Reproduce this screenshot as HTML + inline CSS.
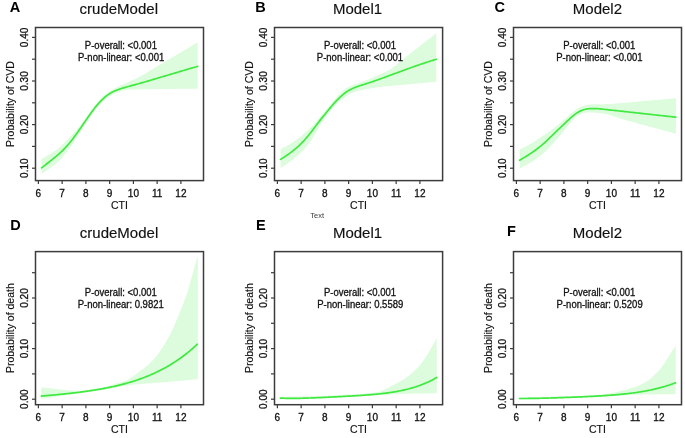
<!DOCTYPE html>
<html><head><meta charset="utf-8"><style>
html,body{margin:0;padding:0;background:#fff;}
svg{display:block;filter:blur(0.25px);}
text{font-family:"Liberation Sans",sans-serif;fill:#111;}
.tk{font-size:10px;stroke:#111;stroke-width:0.3px;}
.al{font-size:10.5px;stroke:#111;stroke-width:0.15px;}
.ti{font-size:15px;stroke:#111;stroke-width:0.15px;}
.lt{font-size:14.5px;font-weight:bold;fill:#000;}
.pv{font-size:10px;stroke:#111;stroke-width:0.3px;}
.sm{font-size:7.5px;fill:#3a3a3a;}
</style></head><body>
<svg width="685" height="438" viewBox="0 0 685 438">
<rect width="685" height="438" fill="#fff"/>
<path d="M41.50,159.00 L42.50,158.41 L43.50,157.82 L44.50,157.23 L45.50,156.64 L46.50,156.04 L47.50,155.44 L48.50,154.83 L49.50,154.22 L50.50,153.60 L51.50,152.98 L52.50,152.35 L53.50,151.71 L54.50,151.05 L55.50,150.39 L56.50,149.70 L57.50,148.98 L58.50,148.22 L59.50,147.40 L60.50,146.53 L61.50,145.61 L62.50,144.65 L63.50,143.65 L64.50,142.63 L65.50,141.59 L66.50,140.55 L67.50,139.51 L68.50,138.47 L69.50,137.44 L70.50,136.40 L71.50,135.36 L72.50,134.32 L73.50,133.26 L74.50,132.18 L75.50,131.08 L76.50,129.94 L77.50,128.76 L78.50,127.55 L79.50,126.30 L80.50,125.01 L81.50,123.69 L82.50,122.34 L83.50,120.97 L84.50,119.59 L85.50,118.20 L86.50,116.81 L87.50,115.43 L88.50,114.05 L89.50,112.68 L90.50,111.32 L91.50,109.97 L92.50,108.63 L93.50,107.32 L94.50,106.03 L95.50,104.77 L96.50,103.56 L97.50,102.38 L98.50,101.23 L99.50,100.13 L100.50,99.05 L101.50,98.01 L102.50,97.01 L103.50,96.05 L104.50,95.13 L105.50,94.26 L106.50,93.44 L107.50,92.67 L108.50,91.95 L109.50,91.28 L110.50,90.64 L111.50,90.04 L112.50,89.47 L113.50,88.93 L114.50,88.42 L115.50,87.92 L116.50,87.43 L117.50,86.96 L118.50,86.49 L119.50,86.03 L120.50,85.58 L121.50,85.13 L122.50,84.68 L123.50,84.23 L124.50,83.78 L125.50,83.32 L126.50,82.87 L127.50,82.42 L128.50,81.97 L129.50,81.52 L130.50,81.07 L131.50,80.61 L132.50,80.15 L133.50,79.69 L134.50,79.22 L135.50,78.75 L136.50,78.26 L137.50,77.76 L138.50,77.26 L139.50,76.73 L140.50,76.20 L141.50,75.64 L142.50,75.08 L143.50,74.50 L144.50,73.92 L145.50,73.33 L146.50,72.73 L147.50,72.14 L148.50,71.55 L149.50,70.95 L150.50,70.36 L151.50,69.76 L152.50,69.17 L153.50,68.57 L154.50,67.98 L155.50,67.39 L156.50,66.79 L157.50,66.20 L158.50,65.60 L159.50,65.01 L160.50,64.41 L161.50,63.82 L162.50,63.22 L163.50,62.63 L164.50,62.04 L165.50,61.44 L166.50,60.85 L167.50,60.25 L168.50,59.66 L169.50,59.06 L170.50,58.47 L171.50,57.87 L172.50,57.28 L173.50,56.69 L174.50,56.09 L175.50,55.50 L176.50,54.90 L177.50,54.31 L178.50,53.71 L179.50,53.12 L180.50,52.52 L181.50,51.93 L182.50,51.34 L183.50,50.74 L184.50,50.15 L185.50,49.55 L186.50,48.96 L187.50,48.36 L188.50,47.77 L189.50,47.18 L190.50,46.58 L191.50,45.99 L192.50,45.40 L193.50,44.81 L194.50,44.23 L195.50,43.66 L196.50,43.10 L197.50,42.57 L197.70,42.30 L197.70,88.60 L197.50,88.61 L196.50,88.62 L195.50,88.63 L194.50,88.64 L193.50,88.65 L192.50,88.66 L191.50,88.68 L190.50,88.69 L189.50,88.70 L188.50,88.71 L187.50,88.72 L186.50,88.74 L185.50,88.75 L184.50,88.76 L183.50,88.77 L182.50,88.78 L181.50,88.80 L180.50,88.81 L179.50,88.82 L178.50,88.83 L177.50,88.85 L176.50,88.86 L175.50,88.87 L174.50,88.88 L173.50,88.89 L172.50,88.91 L171.50,88.92 L170.50,88.93 L169.50,88.94 L168.50,88.95 L167.50,88.97 L166.50,88.98 L165.50,88.99 L164.50,89.00 L163.50,89.01 L162.50,89.03 L161.50,89.04 L160.50,89.05 L159.50,89.06 L158.50,89.08 L157.50,89.09 L156.50,89.10 L155.50,89.11 L154.50,89.12 L153.50,89.14 L152.50,89.15 L151.50,89.16 L150.50,89.17 L149.50,89.18 L148.50,89.20 L147.50,89.21 L146.50,89.22 L145.50,89.23 L144.50,89.25 L143.50,89.26 L142.50,89.27 L141.50,89.28 L140.50,89.30 L139.50,89.31 L138.50,89.33 L137.50,89.34 L136.50,89.36 L135.50,89.38 L134.50,89.39 L133.50,89.42 L132.50,89.44 L131.50,89.47 L130.50,89.52 L129.50,89.59 L128.50,89.68 L127.50,89.79 L126.50,89.94 L125.50,90.12 L124.50,90.34 L123.50,90.58 L122.50,90.84 L121.50,91.13 L120.50,91.45 L119.50,91.78 L118.50,92.14 L117.50,92.51 L116.50,92.91 L115.50,93.33 L114.50,93.78 L113.50,94.25 L112.50,94.75 L111.50,95.28 L110.50,95.85 L109.50,96.46 L108.50,97.12 L107.50,97.81 L106.50,98.56 L105.50,99.35 L104.50,100.20 L103.50,101.09 L102.50,102.03 L101.50,103.01 L100.50,104.04 L99.50,105.10 L98.50,106.20 L97.50,107.33 L96.50,108.51 L95.50,109.73 L94.50,110.99 L93.50,112.29 L92.50,113.64 L91.50,115.01 L90.50,116.42 L89.50,117.86 L88.50,119.32 L87.50,120.80 L86.50,122.31 L85.50,123.85 L84.50,125.40 L83.50,126.97 L82.50,128.55 L81.50,130.13 L80.50,131.70 L79.50,133.27 L78.50,134.82 L77.50,136.37 L76.50,137.90 L75.50,139.43 L74.50,140.95 L73.50,142.45 L72.50,143.94 L71.50,145.41 L70.50,146.85 L69.50,148.25 L68.50,149.62 L67.50,150.96 L66.50,152.27 L65.50,153.55 L64.50,154.80 L63.50,156.03 L62.50,157.23 L61.50,158.38 L60.50,159.48 L59.50,160.51 L58.50,161.47 L57.50,162.38 L56.50,163.23 L55.50,164.04 L54.50,164.82 L53.50,165.58 L52.50,166.33 L51.50,167.06 L50.50,167.78 L49.50,168.49 L48.50,169.18 L47.50,169.86 L46.50,170.54 L45.50,171.20 L44.50,171.85 L43.50,172.50 L42.50,173.15 L41.50,173.80 Z" fill="#ddfcdd" stroke="none"/>
<path d="M41.50,167.90 L42.50,167.13 L43.50,166.36 L44.50,165.59 L45.50,164.82 L46.50,164.04 L47.50,163.26 L48.50,162.48 L49.50,161.69 L50.50,160.91 L51.50,160.11 L52.50,159.31 L53.50,158.51 L54.50,157.70 L55.50,156.88 L56.50,156.05 L57.50,155.20 L58.50,154.33 L59.50,153.43 L60.50,152.50 L61.50,151.54 L62.50,150.56 L63.50,149.55 L64.50,148.53 L65.50,147.49 L66.50,146.43 L67.50,145.34 L68.50,144.22 L69.50,143.05 L70.50,141.83 L71.50,140.57 L72.50,139.27 L73.50,137.94 L74.50,136.58 L75.50,135.20 L76.50,133.81 L77.50,132.41 L78.50,131.01 L79.50,129.58 L80.50,128.15 L81.50,126.70 L82.50,125.24 L83.50,123.78 L84.50,122.32 L85.50,120.86 L86.50,119.41 L87.50,117.98 L88.50,116.55 L89.50,115.14 L90.50,113.74 L91.50,112.36 L92.50,111.00 L93.50,109.66 L94.50,108.35 L95.50,107.07 L96.50,105.84 L97.50,104.65 L98.50,103.51 L99.50,102.40 L100.50,101.34 L101.50,100.32 L102.50,99.34 L103.50,98.41 L104.50,97.52 L105.50,96.68 L106.50,95.89 L107.50,95.14 L108.50,94.43 L109.50,93.78 L110.50,93.16 L111.50,92.59 L112.50,92.05 L113.50,91.56 L114.50,91.09 L115.50,90.65 L116.50,90.24 L117.50,89.86 L118.50,89.49 L119.50,89.14 L120.50,88.81 L121.50,88.49 L122.50,88.18 L123.50,87.88 L124.50,87.59 L125.50,87.31 L126.50,87.03 L127.50,86.75 L128.50,86.48 L129.50,86.20 L130.50,85.93 L131.50,85.66 L132.50,85.39 L133.50,85.12 L134.50,84.84 L135.50,84.57 L136.50,84.29 L137.50,84.01 L138.50,83.73 L139.50,83.45 L140.50,83.17 L141.50,82.89 L142.50,82.60 L143.50,82.32 L144.50,82.03 L145.50,81.74 L146.50,81.45 L147.50,81.16 L148.50,80.87 L149.50,80.57 L150.50,80.28 L151.50,79.98 L152.50,79.68 L153.50,79.39 L154.50,79.09 L155.50,78.79 L156.50,78.50 L157.50,78.20 L158.50,77.91 L159.50,77.61 L160.50,77.31 L161.50,77.02 L162.50,76.72 L163.50,76.43 L164.50,76.13 L165.50,75.83 L166.50,75.54 L167.50,75.24 L168.50,74.95 L169.50,74.65 L170.50,74.35 L171.50,74.06 L172.50,73.76 L173.50,73.47 L174.50,73.17 L175.50,72.87 L176.50,72.58 L177.50,72.28 L178.50,71.98 L179.50,71.69 L180.50,71.39 L181.50,71.10 L182.50,70.80 L183.50,70.50 L184.50,70.21 L185.50,69.91 L186.50,69.62 L187.50,69.32 L188.50,69.02 L189.50,68.73 L190.50,68.43 L191.50,68.14 L192.50,67.84 L193.50,67.55 L194.50,67.26 L195.50,66.98 L196.50,66.70 L197.50,66.44 L197.70,66.30" fill="none" stroke="#40e940" stroke-width="1.7" stroke-linecap="round" stroke-linejoin="round"/>
<rect x="35.5" y="27.5" width="168.00" height="153.10" fill="none" stroke="#3c3c3c" stroke-width="1.5"/>
<line x1="38.40" y1="180.6" x2="38.40" y2="184.1" stroke="#3c3c3c" stroke-width="1.2"/>
<text x="38.40" y="197.20" text-anchor="middle" class="tk">6</text>
<line x1="62.15" y1="180.6" x2="62.15" y2="184.1" stroke="#3c3c3c" stroke-width="1.2"/>
<text x="62.15" y="197.20" text-anchor="middle" class="tk">7</text>
<line x1="85.90" y1="180.6" x2="85.90" y2="184.1" stroke="#3c3c3c" stroke-width="1.2"/>
<text x="85.90" y="197.20" text-anchor="middle" class="tk">8</text>
<line x1="109.65" y1="180.6" x2="109.65" y2="184.1" stroke="#3c3c3c" stroke-width="1.2"/>
<text x="109.65" y="197.20" text-anchor="middle" class="tk">9</text>
<line x1="133.40" y1="180.6" x2="133.40" y2="184.1" stroke="#3c3c3c" stroke-width="1.2"/>
<text x="133.40" y="197.20" text-anchor="middle" class="tk">10</text>
<line x1="157.15" y1="180.6" x2="157.15" y2="184.1" stroke="#3c3c3c" stroke-width="1.2"/>
<text x="157.15" y="197.20" text-anchor="middle" class="tk">11</text>
<line x1="180.90" y1="180.6" x2="180.90" y2="184.1" stroke="#3c3c3c" stroke-width="1.2"/>
<text x="180.90" y="197.20" text-anchor="middle" class="tk">12</text>
<line x1="32.0" y1="168.20" x2="35.5" y2="168.20" stroke="#3c3c3c" stroke-width="1.2"/>
<text transform="translate(28.20,168.20) rotate(-90)" x="0" y="0" text-anchor="middle" class="tk">0.10</text>
<line x1="32.0" y1="146.40" x2="35.5" y2="146.40" stroke="#3c3c3c" stroke-width="1.2"/>
<line x1="32.0" y1="124.60" x2="35.5" y2="124.60" stroke="#3c3c3c" stroke-width="1.2"/>
<text transform="translate(28.20,124.60) rotate(-90)" x="0" y="0" text-anchor="middle" class="tk">0.20</text>
<line x1="32.0" y1="102.80" x2="35.5" y2="102.80" stroke="#3c3c3c" stroke-width="1.2"/>
<line x1="32.0" y1="81.00" x2="35.5" y2="81.00" stroke="#3c3c3c" stroke-width="1.2"/>
<text transform="translate(28.20,81.00) rotate(-90)" x="0" y="0" text-anchor="middle" class="tk">0.30</text>
<line x1="32.0" y1="59.20" x2="35.5" y2="59.20" stroke="#3c3c3c" stroke-width="1.2"/>
<line x1="32.0" y1="37.40" x2="35.5" y2="37.40" stroke="#3c3c3c" stroke-width="1.2"/>
<text transform="translate(28.20,37.40) rotate(-90)" x="0" y="0" text-anchor="middle" class="tk">0.40</text>
<text x="119.50" y="208.90" text-anchor="middle" class="al">CTI</text>
<text transform="translate(14.00,104.05) rotate(-90)" x="0" y="0" text-anchor="middle" class="al">Probability of CVD</text>
<path d="M280.60,149.20 L281.60,148.66 L282.60,148.12 L283.60,147.58 L284.60,147.05 L285.60,146.50 L286.60,145.94 L287.60,145.37 L288.60,144.78 L289.60,144.18 L290.60,143.55 L291.60,142.91 L292.60,142.25 L293.60,141.57 L294.60,140.88 L295.60,140.19 L296.60,139.49 L297.60,138.77 L298.60,138.05 L299.60,137.30 L300.60,136.53 L301.60,135.74 L302.60,134.91 L303.60,134.06 L304.60,133.18 L305.60,132.27 L306.60,131.35 L307.60,130.40 L308.60,129.44 L309.60,128.46 L310.60,127.48 L311.60,126.48 L312.60,125.47 L313.60,124.43 L314.60,123.36 L315.60,122.25 L316.60,121.11 L317.60,119.94 L318.60,118.75 L319.60,117.55 L320.60,116.34 L321.60,115.15 L322.60,113.96 L323.60,112.78 L324.60,111.60 L325.60,110.41 L326.60,109.20 L327.60,107.98 L328.60,106.75 L329.60,105.50 L330.60,104.26 L331.60,103.03 L332.60,101.80 L333.60,100.59 L334.60,99.39 L335.60,98.21 L336.60,97.05 L337.60,95.92 L338.60,94.81 L339.60,93.74 L340.60,92.72 L341.60,91.75 L342.60,90.86 L343.60,90.03 L344.60,89.28 L345.60,88.61 L346.60,87.99 L347.60,87.44 L348.60,86.93 L349.60,86.47 L350.60,86.03 L351.60,85.61 L352.60,85.21 L353.60,84.82 L354.60,84.44 L355.60,84.06 L356.60,83.69 L357.60,83.32 L358.60,82.96 L359.60,82.60 L360.60,82.25 L361.60,81.91 L362.60,81.57 L363.60,81.23 L364.60,80.89 L365.60,80.54 L366.60,80.18 L367.60,79.80 L368.60,79.42 L369.60,79.01 L370.60,78.59 L371.60,78.16 L372.60,77.72 L373.60,77.28 L374.60,76.83 L375.60,76.38 L376.60,75.93 L377.60,75.48 L378.60,75.03 L379.60,74.57 L380.60,74.12 L381.60,73.66 L382.60,73.19 L383.60,72.72 L384.60,72.23 L385.60,71.74 L386.60,71.23 L387.60,70.72 L388.60,70.18 L389.60,69.61 L390.60,69.02 L391.60,68.38 L392.60,67.70 L393.60,66.99 L394.60,66.23 L395.60,65.45 L396.60,64.64 L397.60,63.82 L398.60,63.00 L399.60,62.17 L400.60,61.34 L401.60,60.51 L402.60,59.69 L403.60,58.88 L404.60,58.06 L405.60,57.26 L406.60,56.45 L407.60,55.66 L408.60,54.86 L409.60,54.07 L410.60,53.28 L411.60,52.48 L412.60,51.69 L413.60,50.90 L414.60,50.12 L415.60,49.33 L416.60,48.55 L417.60,47.76 L418.60,46.98 L419.60,46.20 L420.60,45.42 L421.60,44.64 L422.60,43.86 L423.60,43.08 L424.60,42.31 L425.60,41.53 L426.60,40.75 L427.60,39.97 L428.60,39.19 L429.60,38.42 L430.60,37.64 L431.60,36.87 L432.60,36.09 L433.60,35.33 L434.60,34.56 L435.60,33.82 L436.30,33.20 L436.30,81.80 L435.60,81.87 L434.60,81.96 L433.60,82.05 L432.60,82.14 L431.60,82.23 L430.60,82.32 L429.60,82.41 L428.60,82.50 L427.60,82.59 L426.60,82.68 L425.60,82.77 L424.60,82.86 L423.60,82.95 L422.60,83.04 L421.60,83.13 L420.60,83.22 L419.60,83.31 L418.60,83.40 L417.60,83.49 L416.60,83.58 L415.60,83.67 L414.60,83.76 L413.60,83.85 L412.60,83.94 L411.60,84.03 L410.60,84.12 L409.60,84.21 L408.60,84.30 L407.60,84.39 L406.60,84.48 L405.60,84.57 L404.60,84.66 L403.60,84.75 L402.60,84.84 L401.60,84.93 L400.60,85.02 L399.60,85.11 L398.60,85.20 L397.60,85.29 L396.60,85.38 L395.60,85.47 L394.60,85.56 L393.60,85.65 L392.60,85.73 L391.60,85.81 L390.60,85.90 L389.60,85.98 L388.60,86.06 L387.60,86.14 L386.60,86.23 L385.60,86.32 L384.60,86.42 L383.60,86.54 L382.60,86.66 L381.60,86.79 L380.60,86.92 L379.60,87.07 L378.60,87.21 L377.60,87.36 L376.60,87.51 L375.60,87.66 L374.60,87.81 L373.60,87.96 L372.60,88.11 L371.60,88.27 L370.60,88.43 L369.60,88.59 L368.60,88.76 L367.60,88.93 L366.60,89.11 L365.60,89.30 L364.60,89.50 L363.60,89.70 L362.60,89.91 L361.60,90.13 L360.60,90.36 L359.60,90.60 L358.60,90.86 L357.60,91.13 L356.60,91.42 L355.60,91.72 L354.60,92.05 L353.60,92.41 L352.60,92.80 L351.60,93.24 L350.60,93.72 L349.60,94.26 L348.60,94.83 L347.60,95.44 L346.60,96.09 L345.60,96.76 L344.60,97.46 L343.60,98.18 L342.60,98.93 L341.60,99.70 L340.60,100.50 L339.60,101.34 L338.60,102.21 L337.60,103.13 L336.60,104.09 L335.60,105.10 L334.60,106.15 L333.60,107.25 L332.60,108.39 L331.60,109.57 L330.60,110.78 L329.60,112.03 L328.60,113.31 L327.60,114.60 L326.60,115.92 L325.60,117.25 L324.60,118.62 L323.60,120.02 L322.60,121.47 L321.60,122.99 L320.60,124.58 L319.60,126.24 L318.60,127.96 L317.60,129.72 L316.60,131.49 L315.60,133.23 L314.60,134.94 L313.60,136.59 L312.60,138.17 L311.60,139.68 L310.60,141.13 L309.60,142.51 L308.60,143.84 L307.60,145.12 L306.60,146.36 L305.60,147.56 L304.60,148.71 L303.60,149.82 L302.60,150.89 L301.60,151.91 L300.60,152.89 L299.60,153.83 L298.60,154.73 L297.60,155.60 L296.60,156.44 L295.60,157.27 L294.60,158.09 L293.60,158.90 L292.60,159.69 L291.60,160.47 L290.60,161.24 L289.60,161.98 L288.60,162.70 L287.60,163.40 L286.60,164.08 L285.60,164.75 L284.60,165.41 L283.60,166.05 L282.60,166.70 L281.60,167.35 L280.60,168.00 Z" fill="#ddfcdd" stroke="none"/>
<path d="M280.60,159.40 L281.60,158.75 L282.60,158.10 L283.60,157.45 L284.60,156.81 L285.60,156.15 L286.60,155.48 L287.60,154.79 L288.60,154.09 L289.60,153.37 L290.60,152.62 L291.60,151.85 L292.60,151.06 L293.60,150.26 L294.60,149.45 L295.60,148.62 L296.60,147.78 L297.60,146.92 L298.60,146.04 L299.60,145.13 L300.60,144.18 L301.60,143.19 L302.60,142.15 L303.60,141.07 L304.60,139.96 L305.60,138.81 L306.60,137.63 L307.60,136.43 L308.60,135.20 L309.60,133.96 L310.60,132.70 L311.60,131.42 L312.60,130.13 L313.60,128.82 L314.60,127.50 L315.60,126.17 L316.60,124.84 L317.60,123.51 L318.60,122.20 L319.60,120.89 L320.60,119.61 L321.60,118.36 L322.60,117.12 L323.60,115.90 L324.60,114.69 L325.60,113.48 L326.60,112.26 L327.60,111.04 L328.60,109.82 L329.60,108.59 L330.60,107.38 L331.60,106.19 L332.60,105.01 L333.60,103.87 L334.60,102.75 L335.60,101.66 L336.60,100.61 L337.60,99.58 L338.60,98.58 L339.60,97.61 L340.60,96.68 L341.60,95.77 L342.60,94.90 L343.60,94.07 L344.60,93.27 L345.60,92.51 L346.60,91.80 L347.60,91.13 L348.60,90.51 L349.60,89.93 L350.60,89.40 L351.60,88.90 L352.60,88.43 L353.60,88.00 L354.60,87.59 L355.60,87.21 L356.60,86.83 L357.60,86.48 L358.60,86.13 L359.60,85.79 L360.60,85.47 L361.60,85.15 L362.60,84.83 L363.60,84.52 L364.60,84.21 L365.60,83.90 L366.60,83.59 L367.60,83.27 L368.60,82.94 L369.60,82.61 L370.60,82.27 L371.60,81.93 L372.60,81.59 L373.60,81.24 L374.60,80.89 L375.60,80.54 L376.60,80.19 L377.60,79.84 L378.60,79.49 L379.60,79.14 L380.60,78.79 L381.60,78.43 L382.60,78.07 L383.60,77.71 L384.60,77.35 L385.60,76.99 L386.60,76.62 L387.60,76.25 L388.60,75.88 L389.60,75.50 L390.60,75.13 L391.60,74.77 L392.60,74.40 L393.60,74.03 L394.60,73.67 L395.60,73.31 L396.60,72.94 L397.60,72.58 L398.60,72.22 L399.60,71.86 L400.60,71.50 L401.60,71.13 L402.60,70.77 L403.60,70.40 L404.60,70.03 L405.60,69.66 L406.60,69.29 L407.60,68.92 L408.60,68.55 L409.60,68.18 L410.60,67.81 L411.60,67.44 L412.60,67.07 L413.60,66.71 L414.60,66.35 L415.60,66.00 L416.60,65.65 L417.60,65.31 L418.60,64.97 L419.60,64.64 L420.60,64.31 L421.60,63.98 L422.60,63.65 L423.60,63.33 L424.60,63.00 L425.60,62.68 L426.60,62.35 L427.60,62.03 L428.60,61.70 L429.60,61.38 L430.60,61.06 L431.60,60.73 L432.60,60.41 L433.60,60.09 L434.60,59.77 L435.60,59.46 L436.30,59.20" fill="none" stroke="#40e940" stroke-width="1.7" stroke-linecap="round" stroke-linejoin="round"/>
<rect x="274.5" y="27.5" width="168.10" height="153.10" fill="none" stroke="#3c3c3c" stroke-width="1.5"/>
<line x1="277.40" y1="180.6" x2="277.40" y2="184.1" stroke="#3c3c3c" stroke-width="1.2"/>
<text x="277.40" y="197.20" text-anchor="middle" class="tk">6</text>
<line x1="301.15" y1="180.6" x2="301.15" y2="184.1" stroke="#3c3c3c" stroke-width="1.2"/>
<text x="301.15" y="197.20" text-anchor="middle" class="tk">7</text>
<line x1="324.90" y1="180.6" x2="324.90" y2="184.1" stroke="#3c3c3c" stroke-width="1.2"/>
<text x="324.90" y="197.20" text-anchor="middle" class="tk">8</text>
<line x1="348.65" y1="180.6" x2="348.65" y2="184.1" stroke="#3c3c3c" stroke-width="1.2"/>
<text x="348.65" y="197.20" text-anchor="middle" class="tk">9</text>
<line x1="372.40" y1="180.6" x2="372.40" y2="184.1" stroke="#3c3c3c" stroke-width="1.2"/>
<text x="372.40" y="197.20" text-anchor="middle" class="tk">10</text>
<line x1="396.15" y1="180.6" x2="396.15" y2="184.1" stroke="#3c3c3c" stroke-width="1.2"/>
<text x="396.15" y="197.20" text-anchor="middle" class="tk">11</text>
<line x1="419.90" y1="180.6" x2="419.90" y2="184.1" stroke="#3c3c3c" stroke-width="1.2"/>
<text x="419.90" y="197.20" text-anchor="middle" class="tk">12</text>
<line x1="271.0" y1="168.20" x2="274.5" y2="168.20" stroke="#3c3c3c" stroke-width="1.2"/>
<text transform="translate(267.20,168.20) rotate(-90)" x="0" y="0" text-anchor="middle" class="tk">0.10</text>
<line x1="271.0" y1="146.40" x2="274.5" y2="146.40" stroke="#3c3c3c" stroke-width="1.2"/>
<line x1="271.0" y1="124.60" x2="274.5" y2="124.60" stroke="#3c3c3c" stroke-width="1.2"/>
<text transform="translate(267.20,124.60) rotate(-90)" x="0" y="0" text-anchor="middle" class="tk">0.20</text>
<line x1="271.0" y1="102.80" x2="274.5" y2="102.80" stroke="#3c3c3c" stroke-width="1.2"/>
<line x1="271.0" y1="81.00" x2="274.5" y2="81.00" stroke="#3c3c3c" stroke-width="1.2"/>
<text transform="translate(267.20,81.00) rotate(-90)" x="0" y="0" text-anchor="middle" class="tk">0.30</text>
<line x1="271.0" y1="59.20" x2="274.5" y2="59.20" stroke="#3c3c3c" stroke-width="1.2"/>
<line x1="271.0" y1="37.40" x2="274.5" y2="37.40" stroke="#3c3c3c" stroke-width="1.2"/>
<text transform="translate(267.20,37.40) rotate(-90)" x="0" y="0" text-anchor="middle" class="tk">0.40</text>
<text x="358.55" y="208.90" text-anchor="middle" class="al">CTI</text>
<text transform="translate(253.00,104.05) rotate(-90)" x="0" y="0" text-anchor="middle" class="al">Probability of CVD</text>
<path d="M519.60,149.50 L520.60,149.00 L521.60,148.50 L522.60,148.00 L523.60,147.50 L524.60,147.00 L525.60,146.49 L526.60,145.97 L527.60,145.45 L528.60,144.90 L529.60,144.35 L530.60,143.77 L531.60,143.17 L532.60,142.55 L533.60,141.92 L534.60,141.28 L535.60,140.63 L536.60,139.98 L537.60,139.33 L538.60,138.67 L539.60,138.01 L540.60,137.35 L541.60,136.69 L542.60,136.02 L543.60,135.34 L544.60,134.65 L545.60,133.97 L546.60,133.27 L547.60,132.58 L548.60,131.88 L549.60,131.18 L550.60,130.47 L551.60,129.76 L552.60,129.05 L553.60,128.32 L554.60,127.57 L555.60,126.81 L556.60,126.02 L557.60,125.21 L558.60,124.38 L559.60,123.53 L560.60,122.66 L561.60,121.78 L562.60,120.89 L563.60,119.99 L564.60,119.09 L565.60,118.19 L566.60,117.28 L567.60,116.39 L568.60,115.51 L569.60,114.64 L570.60,113.81 L571.60,113.00 L572.60,112.22 L573.60,111.46 L574.60,110.74 L575.60,110.04 L576.60,109.36 L577.60,108.72 L578.60,108.12 L579.60,107.55 L580.60,107.03 L581.60,106.56 L582.60,106.14 L583.60,105.78 L584.60,105.47 L585.60,105.20 L586.60,104.98 L587.60,104.80 L588.60,104.65 L589.60,104.53 L590.60,104.43 L591.60,104.36 L592.60,104.30 L593.60,104.26 L594.60,104.24 L595.60,104.22 L596.60,104.21 L597.60,104.20 L598.60,104.20 L599.60,104.19 L600.60,104.18 L601.60,104.17 L602.60,104.16 L603.60,104.14 L604.60,104.13 L605.60,104.11 L606.60,104.08 L607.60,104.05 L608.60,104.02 L609.60,103.98 L610.60,103.93 L611.60,103.87 L612.60,103.81 L613.60,103.73 L614.60,103.66 L615.60,103.57 L616.60,103.49 L617.60,103.40 L618.60,103.32 L619.60,103.23 L620.60,103.14 L621.60,103.05 L622.60,102.97 L623.60,102.88 L624.60,102.79 L625.60,102.70 L626.60,102.61 L627.60,102.52 L628.60,102.43 L629.60,102.34 L630.60,102.25 L631.60,102.16 L632.60,102.07 L633.60,101.98 L634.60,101.89 L635.60,101.80 L636.60,101.72 L637.60,101.63 L638.60,101.54 L639.60,101.45 L640.60,101.36 L641.60,101.27 L642.60,101.18 L643.60,101.09 L644.60,101.00 L645.60,100.91 L646.60,100.82 L647.60,100.73 L648.60,100.64 L649.60,100.55 L650.60,100.46 L651.60,100.37 L652.60,100.28 L653.60,100.19 L654.60,100.11 L655.60,100.02 L656.60,99.93 L657.60,99.84 L658.60,99.75 L659.60,99.66 L660.60,99.57 L661.60,99.48 L662.60,99.39 L663.60,99.30 L664.60,99.21 L665.60,99.12 L666.60,99.03 L667.60,98.94 L668.60,98.85 L669.60,98.76 L670.60,98.68 L671.60,98.59 L672.60,98.50 L673.60,98.41 L674.60,98.33 L675.60,98.25 L675.90,98.20 L675.90,133.80 L675.60,133.66 L674.60,133.41 L673.60,133.15 L672.60,132.89 L671.60,132.62 L670.60,132.36 L669.60,132.09 L668.60,131.81 L667.60,131.54 L666.60,131.27 L665.60,131.00 L664.60,130.73 L663.60,130.46 L662.60,130.18 L661.60,129.91 L660.60,129.64 L659.60,129.37 L658.60,129.10 L657.60,128.82 L656.60,128.55 L655.60,128.28 L654.60,128.01 L653.60,127.74 L652.60,127.46 L651.60,127.19 L650.60,126.92 L649.60,126.65 L648.60,126.38 L647.60,126.10 L646.60,125.83 L645.60,125.56 L644.60,125.29 L643.60,125.02 L642.60,124.75 L641.60,124.47 L640.60,124.20 L639.60,123.93 L638.60,123.66 L637.60,123.39 L636.60,123.11 L635.60,122.84 L634.60,122.57 L633.60,122.30 L632.60,122.03 L631.60,121.75 L630.60,121.48 L629.60,121.21 L628.60,120.94 L627.60,120.67 L626.60,120.39 L625.60,120.12 L624.60,119.84 L623.60,119.56 L622.60,119.27 L621.60,118.98 L620.60,118.67 L619.60,118.34 L618.60,118.01 L617.60,117.66 L616.60,117.30 L615.60,116.95 L614.60,116.59 L613.60,116.24 L612.60,115.90 L611.60,115.58 L610.60,115.29 L609.60,115.01 L608.60,114.77 L607.60,114.54 L606.60,114.32 L605.60,114.12 L604.60,113.93 L603.60,113.75 L602.60,113.58 L601.60,113.43 L600.60,113.29 L599.60,113.16 L598.60,113.04 L597.60,112.93 L596.60,112.83 L595.60,112.74 L594.60,112.66 L593.60,112.59 L592.60,112.53 L591.60,112.50 L590.60,112.48 L589.60,112.48 L588.60,112.50 L587.60,112.55 L586.60,112.62 L585.60,112.73 L584.60,112.88 L583.60,113.08 L582.60,113.34 L581.60,113.66 L580.60,114.05 L579.60,114.52 L578.60,115.08 L577.60,115.74 L576.60,116.49 L575.60,117.33 L574.60,118.26 L573.60,119.27 L572.60,120.35 L571.60,121.48 L570.60,122.65 L569.60,123.85 L568.60,125.06 L567.60,126.28 L566.60,127.50 L565.60,128.72 L564.60,129.94 L563.60,131.16 L562.60,132.38 L561.60,133.59 L560.60,134.80 L559.60,136.00 L558.60,137.19 L557.60,138.37 L556.60,139.53 L555.60,140.66 L554.60,141.78 L553.60,142.87 L552.60,143.95 L551.60,145.02 L550.60,146.08 L549.60,147.14 L548.60,148.19 L547.60,149.22 L546.60,150.25 L545.60,151.25 L544.60,152.22 L543.60,153.14 L542.60,154.02 L541.60,154.86 L540.60,155.65 L539.60,156.41 L538.60,157.15 L537.60,157.87 L536.60,158.57 L535.60,159.27 L534.60,159.96 L533.60,160.65 L532.60,161.32 L531.60,161.97 L530.60,162.60 L529.60,163.20 L528.60,163.78 L527.60,164.33 L526.60,164.87 L525.60,165.39 L524.60,165.90 L523.60,166.40 L522.60,166.90 L521.60,167.40 L520.60,167.90 L519.60,168.40 Z" fill="#ddfcdd" stroke="none"/>
<path d="M519.60,160.30 L520.60,159.69 L521.60,159.09 L522.60,158.48 L523.60,157.88 L524.60,157.27 L525.60,156.66 L526.60,156.04 L527.60,155.42 L528.60,154.79 L529.60,154.14 L530.60,153.49 L531.60,152.81 L532.60,152.13 L533.60,151.43 L534.60,150.72 L535.60,149.99 L536.60,149.25 L537.60,148.49 L538.60,147.72 L539.60,146.93 L540.60,146.12 L541.60,145.30 L542.60,144.45 L543.60,143.58 L544.60,142.68 L545.60,141.77 L546.60,140.84 L547.60,139.89 L548.60,138.92 L549.60,137.95 L550.60,136.97 L551.60,135.99 L552.60,135.01 L553.60,134.03 L554.60,133.05 L555.60,132.08 L556.60,131.12 L557.60,130.17 L558.60,129.23 L559.60,128.29 L560.60,127.36 L561.60,126.42 L562.60,125.48 L563.60,124.53 L564.60,123.58 L565.60,122.63 L566.60,121.68 L567.60,120.74 L568.60,119.80 L569.60,118.87 L570.60,117.96 L571.60,117.07 L572.60,116.21 L573.60,115.38 L574.60,114.59 L575.60,113.84 L576.60,113.15 L577.60,112.50 L578.60,111.90 L579.60,111.36 L580.60,110.88 L581.60,110.45 L582.60,110.07 L583.60,109.74 L584.60,109.47 L585.60,109.24 L586.60,109.05 L587.60,108.89 L588.60,108.77 L589.60,108.67 L590.60,108.61 L591.60,108.56 L592.60,108.54 L593.60,108.54 L594.60,108.56 L595.60,108.59 L596.60,108.64 L597.60,108.70 L598.60,108.77 L599.60,108.86 L600.60,108.94 L601.60,109.04 L602.60,109.14 L603.60,109.24 L604.60,109.35 L605.60,109.47 L606.60,109.58 L607.60,109.70 L608.60,109.82 L609.60,109.93 L610.60,110.04 L611.60,110.15 L612.60,110.25 L613.60,110.36 L614.60,110.46 L615.60,110.56 L616.60,110.66 L617.60,110.76 L618.60,110.87 L619.60,110.98 L620.60,111.09 L621.60,111.20 L622.60,111.31 L623.60,111.43 L624.60,111.54 L625.60,111.66 L626.60,111.77 L627.60,111.88 L628.60,111.99 L629.60,112.11 L630.60,112.22 L631.60,112.33 L632.60,112.44 L633.60,112.55 L634.60,112.66 L635.60,112.77 L636.60,112.88 L637.60,112.99 L638.60,113.10 L639.60,113.21 L640.60,113.32 L641.60,113.43 L642.60,113.54 L643.60,113.65 L644.60,113.76 L645.60,113.87 L646.60,113.98 L647.60,114.09 L648.60,114.20 L649.60,114.31 L650.60,114.42 L651.60,114.53 L652.60,114.64 L653.60,114.75 L654.60,114.86 L655.60,114.97 L656.60,115.08 L657.60,115.19 L658.60,115.30 L659.60,115.41 L660.60,115.52 L661.60,115.63 L662.60,115.74 L663.60,115.85 L664.60,115.96 L665.60,116.07 L666.60,116.18 L667.60,116.29 L668.60,116.40 L669.60,116.51 L670.60,116.62 L671.60,116.72 L672.60,116.83 L673.60,116.94 L674.60,117.04 L675.60,117.14 L675.90,117.20" fill="none" stroke="#40e940" stroke-width="1.7" stroke-linecap="round" stroke-linejoin="round"/>
<rect x="513.5" y="27.5" width="168.00" height="153.10" fill="none" stroke="#3c3c3c" stroke-width="1.5"/>
<line x1="516.40" y1="180.6" x2="516.40" y2="184.1" stroke="#3c3c3c" stroke-width="1.2"/>
<text x="516.40" y="197.20" text-anchor="middle" class="tk">6</text>
<line x1="540.15" y1="180.6" x2="540.15" y2="184.1" stroke="#3c3c3c" stroke-width="1.2"/>
<text x="540.15" y="197.20" text-anchor="middle" class="tk">7</text>
<line x1="563.90" y1="180.6" x2="563.90" y2="184.1" stroke="#3c3c3c" stroke-width="1.2"/>
<text x="563.90" y="197.20" text-anchor="middle" class="tk">8</text>
<line x1="587.65" y1="180.6" x2="587.65" y2="184.1" stroke="#3c3c3c" stroke-width="1.2"/>
<text x="587.65" y="197.20" text-anchor="middle" class="tk">9</text>
<line x1="611.40" y1="180.6" x2="611.40" y2="184.1" stroke="#3c3c3c" stroke-width="1.2"/>
<text x="611.40" y="197.20" text-anchor="middle" class="tk">10</text>
<line x1="635.15" y1="180.6" x2="635.15" y2="184.1" stroke="#3c3c3c" stroke-width="1.2"/>
<text x="635.15" y="197.20" text-anchor="middle" class="tk">11</text>
<line x1="658.90" y1="180.6" x2="658.90" y2="184.1" stroke="#3c3c3c" stroke-width="1.2"/>
<text x="658.90" y="197.20" text-anchor="middle" class="tk">12</text>
<line x1="510.0" y1="168.20" x2="513.5" y2="168.20" stroke="#3c3c3c" stroke-width="1.2"/>
<text transform="translate(506.20,168.20) rotate(-90)" x="0" y="0" text-anchor="middle" class="tk">0.10</text>
<line x1="510.0" y1="146.40" x2="513.5" y2="146.40" stroke="#3c3c3c" stroke-width="1.2"/>
<line x1="510.0" y1="124.60" x2="513.5" y2="124.60" stroke="#3c3c3c" stroke-width="1.2"/>
<text transform="translate(506.20,124.60) rotate(-90)" x="0" y="0" text-anchor="middle" class="tk">0.20</text>
<line x1="510.0" y1="102.80" x2="513.5" y2="102.80" stroke="#3c3c3c" stroke-width="1.2"/>
<line x1="510.0" y1="81.00" x2="513.5" y2="81.00" stroke="#3c3c3c" stroke-width="1.2"/>
<text transform="translate(506.20,81.00) rotate(-90)" x="0" y="0" text-anchor="middle" class="tk">0.30</text>
<line x1="510.0" y1="59.20" x2="513.5" y2="59.20" stroke="#3c3c3c" stroke-width="1.2"/>
<line x1="510.0" y1="37.40" x2="513.5" y2="37.40" stroke="#3c3c3c" stroke-width="1.2"/>
<text transform="translate(506.20,37.40) rotate(-90)" x="0" y="0" text-anchor="middle" class="tk">0.40</text>
<text x="597.50" y="208.90" text-anchor="middle" class="al">CTI</text>
<text transform="translate(492.00,104.05) rotate(-90)" x="0" y="0" text-anchor="middle" class="al">Probability of CVD</text>
<path d="M41.30,387.30 L42.30,387.42 L43.30,387.53 L44.30,387.65 L45.30,387.77 L46.30,387.89 L47.30,388.00 L48.30,388.12 L49.30,388.24 L50.30,388.36 L51.30,388.47 L52.30,388.59 L53.30,388.71 L54.30,388.83 L55.30,388.94 L56.30,389.06 L57.30,389.18 L58.30,389.30 L59.30,389.41 L60.30,389.53 L61.30,389.65 L62.30,389.76 L63.30,389.86 L64.30,389.96 L65.30,390.04 L66.30,390.12 L67.30,390.19 L68.30,390.26 L69.30,390.32 L70.30,390.39 L71.30,390.45 L72.30,390.51 L73.30,390.58 L74.30,390.64 L75.30,390.71 L76.30,390.77 L77.30,390.83 L78.30,390.89 L79.30,390.93 L80.30,390.95 L81.30,390.92 L82.30,390.85 L83.30,390.73 L84.30,390.59 L85.30,390.43 L86.30,390.26 L87.30,390.09 L88.30,389.92 L89.30,389.75 L90.30,389.58 L91.30,389.41 L92.30,389.24 L93.30,389.07 L94.30,388.90 L95.30,388.73 L96.30,388.56 L97.30,388.39 L98.30,388.22 L99.30,388.05 L100.30,387.87 L101.30,387.69 L102.30,387.50 L103.30,387.29 L104.30,387.05 L105.30,386.80 L106.30,386.52 L107.30,386.23 L108.30,385.94 L109.30,385.64 L110.30,385.34 L111.30,385.05 L112.30,384.75 L113.30,384.46 L114.30,384.16 L115.30,383.86 L116.30,383.57 L117.30,383.27 L118.30,382.97 L119.30,382.68 L120.30,382.38 L121.30,382.09 L122.30,381.79 L123.30,381.49 L124.30,381.19 L125.30,380.86 L126.30,380.51 L127.30,380.09 L128.30,379.59 L129.30,379.01 L130.30,378.36 L131.30,377.66 L132.30,376.94 L133.30,376.21 L134.30,375.48 L135.30,374.75 L136.30,374.01 L137.30,373.27 L138.30,372.53 L139.30,371.78 L140.30,371.02 L141.30,370.25 L142.30,369.46 L143.30,368.67 L144.30,367.88 L145.30,367.08 L146.30,366.28 L147.30,365.47 L148.30,364.64 L149.30,363.77 L150.30,362.84 L151.30,361.84 L152.30,360.78 L153.30,359.69 L154.30,358.57 L155.30,357.43 L156.30,356.28 L157.30,355.10 L158.30,353.86 L159.30,352.53 L160.30,351.10 L161.30,349.57 L162.30,347.98 L163.30,346.34 L164.30,344.69 L165.30,343.01 L166.30,341.32 L167.30,339.60 L168.30,337.85 L169.30,336.05 L170.30,334.18 L171.30,332.20 L172.30,330.10 L173.30,327.88 L174.30,325.57 L175.30,323.20 L176.30,320.81 L177.30,318.41 L178.30,315.99 L179.30,313.56 L180.30,311.12 L181.30,308.65 L182.30,306.16 L183.30,303.64 L184.30,301.04 L185.30,298.32 L186.30,295.44 L187.30,292.38 L188.30,289.16 L189.30,285.79 L190.30,282.28 L191.30,278.64 L192.30,274.92 L193.30,271.19 L194.30,267.54 L195.30,264.01 L196.30,260.70 L197.30,257.82 L197.80,255.80 L197.80,379.20 L197.30,379.26 L196.30,379.35 L195.30,379.44 L194.30,379.53 L193.30,379.62 L192.30,379.71 L191.30,379.80 L190.30,379.89 L189.30,379.98 L188.30,380.08 L187.30,380.17 L186.30,380.26 L185.30,380.35 L184.30,380.44 L183.30,380.54 L182.30,380.63 L181.30,380.72 L180.30,380.81 L179.30,380.90 L178.30,381.00 L177.30,381.09 L176.30,381.18 L175.30,381.27 L174.30,381.36 L173.30,381.46 L172.30,381.55 L171.30,381.64 L170.30,381.73 L169.30,381.82 L168.30,381.90 L167.30,381.99 L166.30,382.07 L165.30,382.15 L164.30,382.23 L163.30,382.31 L162.30,382.39 L161.30,382.47 L160.30,382.54 L159.30,382.62 L158.30,382.70 L157.30,382.77 L156.30,382.85 L155.30,382.93 L154.30,383.00 L153.30,383.08 L152.30,383.16 L151.30,383.23 L150.30,383.31 L149.30,383.39 L148.30,383.46 L147.30,383.54 L146.30,383.62 L145.30,383.69 L144.30,383.77 L143.30,383.85 L142.30,383.93 L141.30,384.01 L140.30,384.09 L139.30,384.18 L138.30,384.26 L137.30,384.35 L136.30,384.44 L135.30,384.53 L134.30,384.62 L133.30,384.72 L132.30,384.82 L131.30,384.92 L130.30,385.03 L129.30,385.15 L128.30,385.28 L127.30,385.43 L126.30,385.59 L125.30,385.76 L124.30,385.95 L123.30,386.14 L122.30,386.33 L121.30,386.52 L120.30,386.72 L119.30,386.92 L118.30,387.12 L117.30,387.31 L116.30,387.51 L115.30,387.71 L114.30,387.91 L113.30,388.10 L112.30,388.30 L111.30,388.50 L110.30,388.70 L109.30,388.89 L108.30,389.09 L107.30,389.28 L106.30,389.47 L105.30,389.65 L104.30,389.83 L103.30,389.99 L102.30,390.15 L101.30,390.31 L100.30,390.45 L99.30,390.60 L98.30,390.74 L97.30,390.88 L96.30,391.01 L95.30,391.15 L94.30,391.29 L93.30,391.42 L92.30,391.56 L91.30,391.70 L90.30,391.83 L89.30,391.97 L88.30,392.11 L87.30,392.24 L86.30,392.38 L85.30,392.52 L84.30,392.66 L83.30,392.79 L82.30,392.93 L81.30,393.07 L80.30,393.20 L79.30,393.34 L78.30,393.48 L77.30,393.62 L76.30,393.76 L75.30,393.91 L74.30,394.05 L73.30,394.19 L72.30,394.33 L71.30,394.48 L70.30,394.62 L69.30,394.77 L68.30,394.91 L67.30,395.05 L66.30,395.20 L65.30,395.34 L64.30,395.49 L63.30,395.63 L62.30,395.78 L61.30,395.92 L60.30,396.06 L59.30,396.21 L58.30,396.35 L57.30,396.50 L56.30,396.64 L55.30,396.78 L54.30,396.93 L53.30,397.07 L52.30,397.22 L51.30,397.36 L50.30,397.50 L49.30,397.65 L48.30,397.79 L47.30,397.94 L46.30,398.08 L45.30,398.22 L44.30,398.37 L43.30,398.51 L42.30,398.66 L41.30,398.80 Z" fill="#ddfcdd" stroke="none"/>
<path d="M41.30,396.04 L42.30,395.96 L43.30,395.88 L44.30,395.80 L45.30,395.72 L46.30,395.63 L47.30,395.55 L48.30,395.46 L49.30,395.38 L50.30,395.29 L51.30,395.20 L52.30,395.11 L53.30,395.02 L54.30,394.93 L55.30,394.84 L56.30,394.75 L57.30,394.65 L58.30,394.55 L59.30,394.46 L60.30,394.36 L61.30,394.26 L62.30,394.16 L63.30,394.05 L64.30,393.95 L65.30,393.85 L66.30,393.74 L67.30,393.63 L68.30,393.52 L69.30,393.41 L70.30,393.30 L71.30,393.19 L72.30,393.07 L73.30,392.95 L74.30,392.84 L75.30,392.72 L76.30,392.59 L77.30,392.47 L78.30,392.35 L79.30,392.22 L80.30,392.09 L81.30,391.96 L82.30,391.83 L83.30,391.69 L84.30,391.56 L85.30,391.42 L86.30,391.28 L87.30,391.14 L88.30,390.99 L89.30,390.85 L90.30,390.70 L91.30,390.55 L92.30,390.39 L93.30,390.24 L94.30,390.08 L95.30,389.92 L96.30,389.76 L97.30,389.59 L98.30,389.42 L99.30,389.25 L100.30,389.08 L101.30,388.90 L102.30,388.72 L103.30,388.54 L104.30,388.35 L105.30,388.16 L106.30,387.97 L107.30,387.77 L108.30,387.57 L109.30,387.37 L110.30,387.16 L111.30,386.95 L112.30,386.74 L113.30,386.52 L114.30,386.30 L115.30,386.08 L116.30,385.85 L117.30,385.61 L118.30,385.38 L119.30,385.13 L120.30,384.89 L121.30,384.64 L122.30,384.38 L123.30,384.12 L124.30,383.86 L125.30,383.59 L126.30,383.32 L127.30,383.04 L128.30,382.75 L129.30,382.46 L130.30,382.17 L131.30,381.87 L132.30,381.57 L133.30,381.26 L134.30,380.94 L135.30,380.62 L136.30,380.29 L137.30,379.95 L138.30,379.61 L139.30,379.27 L140.30,378.92 L141.30,378.56 L142.30,378.19 L143.30,377.82 L144.30,377.44 L145.30,377.05 L146.30,376.66 L147.30,376.26 L148.30,375.85 L149.30,375.44 L150.30,375.02 L151.30,374.59 L152.30,374.15 L153.30,373.71 L154.30,373.25 L155.30,372.79 L156.30,372.32 L157.30,371.84 L158.30,371.36 L159.30,370.86 L160.30,370.36 L161.30,369.85 L162.30,369.32 L163.30,368.79 L164.30,368.25 L165.30,367.70 L166.30,367.14 L167.30,366.58 L168.30,366.00 L169.30,365.41 L170.30,364.81 L171.30,364.20 L172.30,363.58 L173.30,362.95 L174.30,362.31 L175.30,361.66 L176.30,360.99 L177.30,360.32 L178.30,359.64 L179.30,358.94 L180.30,358.23 L181.30,357.51 L182.30,356.78 L183.30,356.03 L184.30,355.28 L185.30,354.51 L186.30,353.72 L187.30,352.93 L188.30,352.12 L189.30,351.30 L190.30,350.47 L191.30,349.62 L192.30,348.76 L193.30,347.88 L194.30,346.99 L195.30,346.09 L196.30,345.17 L197.30,344.24" fill="none" stroke="#40e940" stroke-width="1.7" stroke-linecap="round" stroke-linejoin="round"/>
<rect x="35.5" y="251.6" width="168.00" height="153.10" fill="none" stroke="#3c3c3c" stroke-width="1.5"/>
<line x1="38.40" y1="404.7" x2="38.40" y2="408.2" stroke="#3c3c3c" stroke-width="1.2"/>
<text x="38.40" y="421.00" text-anchor="middle" class="tk">6</text>
<line x1="62.15" y1="404.7" x2="62.15" y2="408.2" stroke="#3c3c3c" stroke-width="1.2"/>
<text x="62.15" y="421.00" text-anchor="middle" class="tk">7</text>
<line x1="85.90" y1="404.7" x2="85.90" y2="408.2" stroke="#3c3c3c" stroke-width="1.2"/>
<text x="85.90" y="421.00" text-anchor="middle" class="tk">8</text>
<line x1="109.65" y1="404.7" x2="109.65" y2="408.2" stroke="#3c3c3c" stroke-width="1.2"/>
<text x="109.65" y="421.00" text-anchor="middle" class="tk">9</text>
<line x1="133.40" y1="404.7" x2="133.40" y2="408.2" stroke="#3c3c3c" stroke-width="1.2"/>
<text x="133.40" y="421.00" text-anchor="middle" class="tk">10</text>
<line x1="157.15" y1="404.7" x2="157.15" y2="408.2" stroke="#3c3c3c" stroke-width="1.2"/>
<text x="157.15" y="421.00" text-anchor="middle" class="tk">11</text>
<line x1="180.90" y1="404.7" x2="180.90" y2="408.2" stroke="#3c3c3c" stroke-width="1.2"/>
<text x="180.90" y="421.00" text-anchor="middle" class="tk">12</text>
<line x1="32.0" y1="399.20" x2="35.5" y2="399.20" stroke="#3c3c3c" stroke-width="1.2"/>
<text transform="translate(28.20,399.20) rotate(-90)" x="0" y="0" text-anchor="middle" class="tk">0.00</text>
<line x1="32.0" y1="373.90" x2="35.5" y2="373.90" stroke="#3c3c3c" stroke-width="1.2"/>
<line x1="32.0" y1="348.60" x2="35.5" y2="348.60" stroke="#3c3c3c" stroke-width="1.2"/>
<text transform="translate(28.20,348.60) rotate(-90)" x="0" y="0" text-anchor="middle" class="tk">0.10</text>
<line x1="32.0" y1="323.30" x2="35.5" y2="323.30" stroke="#3c3c3c" stroke-width="1.2"/>
<line x1="32.0" y1="298.00" x2="35.5" y2="298.00" stroke="#3c3c3c" stroke-width="1.2"/>
<text transform="translate(28.20,298.00) rotate(-90)" x="0" y="0" text-anchor="middle" class="tk">0.20</text>
<line x1="32.0" y1="272.70" x2="35.5" y2="272.70" stroke="#3c3c3c" stroke-width="1.2"/>
<text x="119.50" y="433.00" text-anchor="middle" class="al">CTI</text>
<text transform="translate(14.00,328.15) rotate(-90)" x="0" y="0" text-anchor="middle" class="al">Probability of death</text>
<path d="M280.30,396.80 L281.30,396.78 L282.30,396.76 L283.30,396.74 L284.30,396.72 L285.30,396.70 L286.30,396.68 L287.30,396.66 L288.30,396.64 L289.30,396.62 L290.30,396.60 L291.30,396.58 L292.30,396.56 L293.30,396.54 L294.30,396.52 L295.30,396.50 L296.30,396.48 L297.30,396.46 L298.30,396.44 L299.30,396.42 L300.30,396.40 L301.30,396.38 L302.30,396.36 L303.30,396.34 L304.30,396.32 L305.30,396.30 L306.30,396.28 L307.30,396.26 L308.30,396.24 L309.30,396.22 L310.30,396.20 L311.30,396.18 L312.30,396.16 L313.30,396.14 L314.30,396.11 L315.30,396.09 L316.30,396.07 L317.30,396.05 L318.30,396.03 L319.30,396.00 L320.30,395.97 L321.30,395.93 L322.30,395.88 L323.30,395.83 L324.30,395.78 L325.30,395.73 L326.30,395.69 L327.30,395.64 L328.30,395.58 L329.30,395.54 L330.30,395.49 L331.30,395.44 L332.30,395.39 L333.30,395.34 L334.30,395.29 L335.30,395.24 L336.30,395.19 L337.30,395.14 L338.30,395.09 L339.30,395.04 L340.30,394.99 L341.30,394.94 L342.30,394.88 L343.30,394.84 L344.30,394.79 L345.30,394.74 L346.30,394.69 L347.30,394.63 L348.30,394.58 L349.30,394.54 L350.30,394.49 L351.30,394.44 L352.30,394.39 L353.30,394.33 L354.30,394.28 L355.30,394.23 L356.30,394.18 L357.30,394.13 L358.30,394.07 L359.30,394.01 L360.30,393.94 L361.30,393.85 L362.30,393.76 L363.30,393.67 L364.30,393.57 L365.30,393.47 L366.30,393.37 L367.30,393.27 L368.30,393.17 L369.30,393.07 L370.30,392.97 L371.30,392.87 L372.30,392.77 L373.30,392.67 L374.30,392.57 L375.30,392.47 L376.30,392.36 L377.30,392.24 L378.30,392.08 L379.30,391.86 L380.30,391.57 L381.30,391.19 L382.30,390.75 L383.30,390.27 L384.30,389.76 L385.30,389.24 L386.30,388.72 L387.30,388.20 L388.30,387.68 L389.30,387.16 L390.30,386.64 L391.30,386.12 L392.30,385.60 L393.30,385.08 L394.30,384.55 L395.30,384.01 L396.30,383.46 L397.30,382.91 L398.30,382.36 L399.30,381.80 L400.30,381.22 L401.30,380.64 L402.30,380.04 L403.30,379.41 L404.30,378.77 L405.30,378.12 L406.30,377.46 L407.30,376.79 L408.30,376.09 L409.30,375.36 L410.30,374.57 L411.30,373.74 L412.30,372.86 L413.30,371.96 L414.30,371.03 L415.30,370.09 L416.30,369.11 L417.30,368.10 L418.30,367.05 L419.30,365.92 L420.30,364.73 L421.30,363.45 L422.30,362.10 L423.30,360.69 L424.30,359.23 L425.30,357.72 L426.30,356.16 L427.30,354.55 L428.30,352.91 L429.30,351.23 L430.30,349.53 L431.30,347.81 L432.30,346.06 L433.30,344.28 L434.30,342.49 L435.30,340.69 L436.30,338.90 L436.80,337.60 L436.80,393.30 L436.30,393.31 L435.30,393.32 L434.30,393.33 L433.30,393.34 L432.30,393.35 L431.30,393.37 L430.30,393.38 L429.30,393.39 L428.30,393.40 L427.30,393.41 L426.30,393.43 L425.30,393.44 L424.30,393.45 L423.30,393.46 L422.30,393.48 L421.30,393.49 L420.30,393.50 L419.30,393.51 L418.30,393.52 L417.30,393.54 L416.30,393.55 L415.30,393.57 L414.30,393.58 L413.30,393.60 L412.30,393.63 L411.30,393.66 L410.30,393.69 L409.30,393.73 L408.30,393.77 L407.30,393.81 L406.30,393.85 L405.30,393.89 L404.30,393.94 L403.30,393.98 L402.30,394.02 L401.30,394.07 L400.30,394.11 L399.30,394.16 L398.30,394.20 L397.30,394.24 L396.30,394.29 L395.30,394.33 L394.30,394.37 L393.30,394.42 L392.30,394.46 L391.30,394.51 L390.30,394.55 L389.30,394.59 L388.30,394.64 L387.30,394.68 L386.30,394.72 L385.30,394.77 L384.30,394.81 L383.30,394.86 L382.30,394.91 L381.30,394.96 L380.30,395.02 L379.30,395.08 L378.30,395.14 L377.30,395.21 L376.30,395.28 L375.30,395.35 L374.30,395.43 L373.30,395.50 L372.30,395.58 L371.30,395.65 L370.30,395.73 L369.30,395.80 L368.30,395.88 L367.30,395.95 L366.30,396.03 L365.30,396.10 L364.30,396.17 L363.30,396.24 L362.30,396.31 L361.30,396.38 L360.30,396.44 L359.30,396.49 L358.30,396.54 L357.30,396.58 L356.30,396.62 L355.30,396.66 L354.30,396.70 L353.30,396.73 L352.30,396.77 L351.30,396.81 L350.30,396.84 L349.30,396.88 L348.30,396.91 L347.30,396.95 L346.30,396.98 L345.30,397.02 L344.30,397.05 L343.30,397.09 L342.30,397.12 L341.30,397.16 L340.30,397.19 L339.30,397.23 L338.30,397.26 L337.30,397.30 L336.30,397.33 L335.30,397.37 L334.30,397.40 L333.30,397.44 L332.30,397.47 L331.30,397.51 L330.30,397.54 L329.30,397.58 L328.30,397.61 L327.30,397.65 L326.30,397.68 L325.30,397.72 L324.30,397.75 L323.30,397.79 L322.30,397.82 L321.30,397.86 L320.30,397.89 L319.30,397.93 L318.30,397.96 L317.30,398.00 L316.30,398.04 L315.30,398.07 L314.30,398.11 L313.30,398.14 L312.30,398.18 L311.30,398.21 L310.30,398.25 L309.30,398.28 L308.30,398.32 L307.30,398.35 L306.30,398.39 L305.30,398.42 L304.30,398.46 L303.30,398.49 L302.30,398.53 L301.30,398.56 L300.30,398.60 L299.30,398.63 L298.30,398.67 L297.30,398.70 L296.30,398.74 L295.30,398.77 L294.30,398.81 L293.30,398.84 L292.30,398.88 L291.30,398.91 L290.30,398.95 L289.30,398.98 L288.30,399.02 L287.30,399.05 L286.30,399.09 L285.30,399.12 L284.30,399.16 L283.30,399.19 L282.30,399.23 L281.30,399.26 L280.30,399.30 Z" fill="#ddfcdd" stroke="none"/>
<path d="M280.30,398.10 L281.30,398.15 L282.30,398.18 L283.30,398.22 L284.30,398.25 L285.30,398.28 L286.30,398.30 L287.30,398.32 L288.30,398.33 L289.30,398.35 L290.30,398.35 L291.30,398.36 L292.30,398.36 L293.30,398.36 L294.30,398.35 L295.30,398.35 L296.30,398.34 L297.30,398.33 L298.30,398.31 L299.30,398.29 L300.30,398.28 L301.30,398.25 L302.30,398.23 L303.30,398.21 L304.30,398.18 L305.30,398.15 L306.30,398.12 L307.30,398.09 L308.30,398.06 L309.30,398.02 L310.30,397.99 L311.30,397.95 L312.30,397.91 L313.30,397.87 L314.30,397.83 L315.30,397.79 L316.30,397.75 L317.30,397.71 L318.30,397.66 L319.30,397.62 L320.30,397.57 L321.30,397.53 L322.30,397.48 L323.30,397.44 L324.30,397.39 L325.30,397.34 L326.30,397.29 L327.30,397.24 L328.30,397.20 L329.30,397.15 L330.30,397.10 L331.30,397.05 L332.30,397.00 L333.30,396.95 L334.30,396.90 L335.30,396.84 L336.30,396.79 L337.30,396.74 L338.30,396.69 L339.30,396.64 L340.30,396.59 L341.30,396.53 L342.30,396.48 L343.30,396.43 L344.30,396.37 L345.30,396.32 L346.30,396.26 L347.30,396.21 L348.30,396.15 L349.30,396.10 L350.30,396.04 L351.30,395.98 L352.30,395.92 L353.30,395.87 L354.30,395.81 L355.30,395.75 L356.30,395.69 L357.30,395.62 L358.30,395.56 L359.30,395.50 L360.30,395.43 L361.30,395.37 L362.30,395.30 L363.30,395.23 L364.30,395.16 L365.30,395.09 L366.30,395.01 L367.30,394.94 L368.30,394.86 L369.30,394.78 L370.30,394.70 L371.30,394.62 L372.30,394.54 L373.30,394.45 L374.30,394.36 L375.30,394.27 L376.30,394.18 L377.30,394.08 L378.30,393.98 L379.30,393.88 L380.30,393.77 L381.30,393.66 L382.30,393.55 L383.30,393.43 L384.30,393.31 L385.30,393.19 L386.30,393.06 L387.30,392.93 L388.30,392.80 L389.30,392.66 L390.30,392.52 L391.30,392.37 L392.30,392.21 L393.30,392.05 L394.30,391.89 L395.30,391.72 L396.30,391.55 L397.30,391.37 L398.30,391.18 L399.30,390.99 L400.30,390.79 L401.30,390.59 L402.30,390.38 L403.30,390.16 L404.30,389.94 L405.30,389.70 L406.30,389.47 L407.30,389.22 L408.30,388.96 L409.30,388.70 L410.30,388.43 L411.30,388.15 L412.30,387.86 L413.30,387.57 L414.30,387.26 L415.30,386.95 L416.30,386.62 L417.30,386.29 L418.30,385.94 L419.30,385.59 L420.30,385.23 L421.30,384.85 L422.30,384.46 L423.30,384.07 L424.30,383.66 L425.30,383.24 L426.30,382.80 L427.30,382.36 L428.30,381.90 L429.30,381.43 L430.30,380.94 L431.30,380.45 L432.30,379.94 L433.30,379.41 L434.30,378.87 L435.30,378.32 L436.30,377.75 L436.80,377.46" fill="none" stroke="#40e940" stroke-width="1.7" stroke-linecap="round" stroke-linejoin="round"/>
<rect x="274.5" y="251.6" width="168.10" height="153.10" fill="none" stroke="#3c3c3c" stroke-width="1.5"/>
<line x1="277.40" y1="404.7" x2="277.40" y2="408.2" stroke="#3c3c3c" stroke-width="1.2"/>
<text x="277.40" y="421.00" text-anchor="middle" class="tk">6</text>
<line x1="301.15" y1="404.7" x2="301.15" y2="408.2" stroke="#3c3c3c" stroke-width="1.2"/>
<text x="301.15" y="421.00" text-anchor="middle" class="tk">7</text>
<line x1="324.90" y1="404.7" x2="324.90" y2="408.2" stroke="#3c3c3c" stroke-width="1.2"/>
<text x="324.90" y="421.00" text-anchor="middle" class="tk">8</text>
<line x1="348.65" y1="404.7" x2="348.65" y2="408.2" stroke="#3c3c3c" stroke-width="1.2"/>
<text x="348.65" y="421.00" text-anchor="middle" class="tk">9</text>
<line x1="372.40" y1="404.7" x2="372.40" y2="408.2" stroke="#3c3c3c" stroke-width="1.2"/>
<text x="372.40" y="421.00" text-anchor="middle" class="tk">10</text>
<line x1="396.15" y1="404.7" x2="396.15" y2="408.2" stroke="#3c3c3c" stroke-width="1.2"/>
<text x="396.15" y="421.00" text-anchor="middle" class="tk">11</text>
<line x1="419.90" y1="404.7" x2="419.90" y2="408.2" stroke="#3c3c3c" stroke-width="1.2"/>
<text x="419.90" y="421.00" text-anchor="middle" class="tk">12</text>
<line x1="271.0" y1="399.20" x2="274.5" y2="399.20" stroke="#3c3c3c" stroke-width="1.2"/>
<text transform="translate(267.20,399.20) rotate(-90)" x="0" y="0" text-anchor="middle" class="tk">0.00</text>
<line x1="271.0" y1="373.90" x2="274.5" y2="373.90" stroke="#3c3c3c" stroke-width="1.2"/>
<line x1="271.0" y1="348.60" x2="274.5" y2="348.60" stroke="#3c3c3c" stroke-width="1.2"/>
<text transform="translate(267.20,348.60) rotate(-90)" x="0" y="0" text-anchor="middle" class="tk">0.10</text>
<line x1="271.0" y1="323.30" x2="274.5" y2="323.30" stroke="#3c3c3c" stroke-width="1.2"/>
<line x1="271.0" y1="298.00" x2="274.5" y2="298.00" stroke="#3c3c3c" stroke-width="1.2"/>
<text transform="translate(267.20,298.00) rotate(-90)" x="0" y="0" text-anchor="middle" class="tk">0.20</text>
<line x1="271.0" y1="272.70" x2="274.5" y2="272.70" stroke="#3c3c3c" stroke-width="1.2"/>
<text x="358.55" y="433.00" text-anchor="middle" class="al">CTI</text>
<text transform="translate(253.00,328.15) rotate(-90)" x="0" y="0" text-anchor="middle" class="al">Probability of death</text>
<path d="M519.50,397.30 L520.50,397.28 L521.50,397.26 L522.50,397.24 L523.50,397.21 L524.50,397.19 L525.50,397.17 L526.50,397.15 L527.50,397.13 L528.50,397.11 L529.50,397.09 L530.50,397.06 L531.50,397.04 L532.50,397.02 L533.50,397.00 L534.50,396.98 L535.50,396.96 L536.50,396.93 L537.50,396.91 L538.50,396.89 L539.50,396.87 L540.50,396.85 L541.50,396.83 L542.50,396.81 L543.50,396.78 L544.50,396.76 L545.50,396.74 L546.50,396.72 L547.50,396.70 L548.50,396.68 L549.50,396.66 L550.50,396.63 L551.50,396.61 L552.50,396.59 L553.50,396.57 L554.50,396.55 L555.50,396.53 L556.50,396.50 L557.50,396.48 L558.50,396.46 L559.50,396.44 L560.50,396.42 L561.50,396.40 L562.50,396.38 L563.50,396.35 L564.50,396.33 L565.50,396.31 L566.50,396.29 L567.50,396.27 L568.50,396.25 L569.50,396.23 L570.50,396.20 L571.50,396.18 L572.50,396.16 L573.50,396.14 L574.50,396.12 L575.50,396.10 L576.50,396.07 L577.50,396.05 L578.50,396.02 L579.50,395.99 L580.50,395.94 L581.50,395.89 L582.50,395.83 L583.50,395.77 L584.50,395.71 L585.50,395.64 L586.50,395.58 L587.50,395.51 L588.50,395.45 L589.50,395.38 L590.50,395.32 L591.50,395.25 L592.50,395.18 L593.50,395.12 L594.50,395.05 L595.50,394.99 L596.50,394.92 L597.50,394.86 L598.50,394.79 L599.50,394.72 L600.50,394.65 L601.50,394.57 L602.50,394.47 L603.50,394.35 L604.50,394.21 L605.50,394.05 L606.50,393.88 L607.50,393.71 L608.50,393.54 L609.50,393.36 L610.50,393.19 L611.50,393.01 L612.50,392.83 L613.50,392.64 L614.50,392.45 L615.50,392.23 L616.50,392.01 L617.50,391.77 L618.50,391.53 L619.50,391.28 L620.50,391.04 L621.50,390.79 L622.50,390.54 L623.50,390.29 L624.50,390.04 L625.50,389.78 L626.50,389.51 L627.50,389.24 L628.50,388.95 L629.50,388.66 L630.50,388.36 L631.50,388.06 L632.50,387.76 L633.50,387.46 L634.50,387.16 L635.50,386.85 L636.50,386.52 L637.50,386.16 L638.50,385.76 L639.50,385.30 L640.50,384.80 L641.50,384.27 L642.50,383.72 L643.50,383.17 L644.50,382.61 L645.50,382.05 L646.50,381.49 L647.50,380.90 L648.50,380.28 L649.50,379.59 L650.50,378.82 L651.50,377.95 L652.50,377.02 L653.50,376.05 L654.50,375.05 L655.50,374.04 L656.50,373.02 L657.50,371.98 L658.50,370.90 L659.50,369.75 L660.50,368.52 L661.50,367.21 L662.50,365.83 L663.50,364.39 L664.50,362.92 L665.50,361.40 L666.50,359.85 L667.50,358.26 L668.50,356.66 L669.50,355.06 L670.50,353.49 L671.50,351.97 L672.50,350.48 L673.50,349.04 L674.50,347.66 L675.50,346.37 L675.80,345.60 L675.60,394.20 L675.50,394.20 L674.50,394.21 L673.50,394.22 L672.50,394.23 L671.50,394.24 L670.50,394.25 L669.50,394.26 L668.50,394.27 L667.50,394.28 L666.50,394.29 L665.50,394.30 L664.50,394.31 L663.50,394.32 L662.50,394.33 L661.50,394.34 L660.50,394.34 L659.50,394.35 L658.50,394.36 L657.50,394.37 L656.50,394.38 L655.50,394.39 L654.50,394.40 L653.50,394.41 L652.50,394.42 L651.50,394.43 L650.50,394.44 L649.50,394.45 L648.50,394.46 L647.50,394.48 L646.50,394.49 L645.50,394.51 L644.50,394.54 L643.50,394.57 L642.50,394.60 L641.50,394.64 L640.50,394.68 L639.50,394.72 L638.50,394.76 L637.50,394.81 L636.50,394.85 L635.50,394.90 L634.50,394.94 L633.50,394.99 L632.50,395.03 L631.50,395.08 L630.50,395.12 L629.50,395.17 L628.50,395.22 L627.50,395.26 L626.50,395.31 L625.50,395.35 L624.50,395.40 L623.50,395.45 L622.50,395.50 L621.50,395.55 L620.50,395.60 L619.50,395.66 L618.50,395.72 L617.50,395.78 L616.50,395.85 L615.50,395.92 L614.50,395.99 L613.50,396.06 L612.50,396.13 L611.50,396.20 L610.50,396.27 L609.50,396.34 L608.50,396.40 L607.50,396.47 L606.50,396.54 L605.50,396.61 L604.50,396.68 L603.50,396.75 L602.50,396.81 L601.50,396.87 L600.50,396.93 L599.50,396.98 L598.50,397.03 L597.50,397.07 L596.50,397.11 L595.50,397.14 L594.50,397.18 L593.50,397.21 L592.50,397.24 L591.50,397.27 L590.50,397.31 L589.50,397.34 L588.50,397.37 L587.50,397.40 L586.50,397.44 L585.50,397.47 L584.50,397.50 L583.50,397.53 L582.50,397.57 L581.50,397.60 L580.50,397.63 L579.50,397.66 L578.50,397.69 L577.50,397.73 L576.50,397.76 L575.50,397.79 L574.50,397.82 L573.50,397.86 L572.50,397.89 L571.50,397.92 L570.50,397.95 L569.50,397.99 L568.50,398.02 L567.50,398.05 L566.50,398.08 L565.50,398.11 L564.50,398.15 L563.50,398.18 L562.50,398.21 L561.50,398.24 L560.50,398.28 L559.50,398.31 L558.50,398.34 L557.50,398.37 L556.50,398.40 L555.50,398.44 L554.50,398.47 L553.50,398.50 L552.50,398.53 L551.50,398.57 L550.50,398.60 L549.50,398.63 L548.50,398.66 L547.50,398.70 L546.50,398.73 L545.50,398.76 L544.50,398.79 L543.50,398.82 L542.50,398.86 L541.50,398.89 L540.50,398.92 L539.50,398.95 L538.50,398.99 L537.50,399.02 L536.50,399.05 L535.50,399.08 L534.50,399.12 L533.50,399.15 L532.50,399.18 L531.50,399.21 L530.50,399.24 L529.50,399.28 L528.50,399.31 L527.50,399.34 L526.50,399.37 L525.50,399.41 L524.50,399.44 L523.50,399.47 L522.50,399.50 L521.50,399.54 L520.50,399.57 L519.50,399.60 Z" fill="#ddfcdd" stroke="none"/>
<path d="M519.50,398.49 L520.50,398.50 L521.50,398.50 L522.50,398.50 L523.50,398.50 L524.50,398.50 L525.50,398.49 L526.50,398.48 L527.50,398.48 L528.50,398.47 L529.50,398.46 L530.50,398.44 L531.50,398.43 L532.50,398.42 L533.50,398.40 L534.50,398.38 L535.50,398.37 L536.50,398.35 L537.50,398.33 L538.50,398.31 L539.50,398.28 L540.50,398.26 L541.50,398.24 L542.50,398.21 L543.50,398.19 L544.50,398.16 L545.50,398.13 L546.50,398.10 L547.50,398.08 L548.50,398.05 L549.50,398.02 L550.50,397.99 L551.50,397.96 L552.50,397.92 L553.50,397.89 L554.50,397.86 L555.50,397.83 L556.50,397.79 L557.50,397.76 L558.50,397.72 L559.50,397.69 L560.50,397.65 L561.50,397.62 L562.50,397.58 L563.50,397.55 L564.50,397.51 L565.50,397.47 L566.50,397.43 L567.50,397.40 L568.50,397.36 L569.50,397.32 L570.50,397.28 L571.50,397.24 L572.50,397.20 L573.50,397.16 L574.50,397.12 L575.50,397.08 L576.50,397.04 L577.50,396.99 L578.50,396.95 L579.50,396.91 L580.50,396.87 L581.50,396.82 L582.50,396.78 L583.50,396.73 L584.50,396.69 L585.50,396.64 L586.50,396.59 L587.50,396.55 L588.50,396.50 L589.50,396.45 L590.50,396.40 L591.50,396.35 L592.50,396.30 L593.50,396.24 L594.50,396.19 L595.50,396.14 L596.50,396.08 L597.50,396.03 L598.50,395.97 L599.50,395.91 L600.50,395.85 L601.50,395.79 L602.50,395.73 L603.50,395.67 L604.50,395.60 L605.50,395.54 L606.50,395.47 L607.50,395.40 L608.50,395.33 L609.50,395.26 L610.50,395.19 L611.50,395.11 L612.50,395.04 L613.50,394.96 L614.50,394.88 L615.50,394.79 L616.50,394.71 L617.50,394.62 L618.50,394.53 L619.50,394.44 L620.50,394.35 L621.50,394.25 L622.50,394.16 L623.50,394.05 L624.50,393.95 L625.50,393.84 L626.50,393.73 L627.50,393.62 L628.50,393.51 L629.50,393.39 L630.50,393.27 L631.50,393.14 L632.50,393.01 L633.50,392.88 L634.50,392.75 L635.50,392.61 L636.50,392.47 L637.50,392.32 L638.50,392.17 L639.50,392.02 L640.50,391.86 L641.50,391.70 L642.50,391.53 L643.50,391.36 L644.50,391.18 L645.50,391.00 L646.50,390.82 L647.50,390.63 L648.50,390.43 L649.50,390.23 L650.50,390.03 L651.50,389.82 L652.50,389.60 L653.50,389.38 L654.50,389.15 L655.50,388.92 L656.50,388.68 L657.50,388.43 L658.50,388.18 L659.50,387.92 L660.50,387.66 L661.50,387.39 L662.50,387.11 L663.50,386.83 L664.50,386.53 L665.50,386.24 L666.50,385.93 L667.50,385.62 L668.50,385.29 L669.50,384.97 L670.50,384.63 L671.50,384.28 L672.50,383.93 L673.50,383.57 L674.50,383.20 L675.50,382.82 L675.60,382.79" fill="none" stroke="#40e940" stroke-width="1.7" stroke-linecap="round" stroke-linejoin="round"/>
<rect x="513.5" y="251.6" width="168.00" height="153.10" fill="none" stroke="#3c3c3c" stroke-width="1.5"/>
<line x1="516.40" y1="404.7" x2="516.40" y2="408.2" stroke="#3c3c3c" stroke-width="1.2"/>
<text x="516.40" y="421.00" text-anchor="middle" class="tk">6</text>
<line x1="540.15" y1="404.7" x2="540.15" y2="408.2" stroke="#3c3c3c" stroke-width="1.2"/>
<text x="540.15" y="421.00" text-anchor="middle" class="tk">7</text>
<line x1="563.90" y1="404.7" x2="563.90" y2="408.2" stroke="#3c3c3c" stroke-width="1.2"/>
<text x="563.90" y="421.00" text-anchor="middle" class="tk">8</text>
<line x1="587.65" y1="404.7" x2="587.65" y2="408.2" stroke="#3c3c3c" stroke-width="1.2"/>
<text x="587.65" y="421.00" text-anchor="middle" class="tk">9</text>
<line x1="611.40" y1="404.7" x2="611.40" y2="408.2" stroke="#3c3c3c" stroke-width="1.2"/>
<text x="611.40" y="421.00" text-anchor="middle" class="tk">10</text>
<line x1="635.15" y1="404.7" x2="635.15" y2="408.2" stroke="#3c3c3c" stroke-width="1.2"/>
<text x="635.15" y="421.00" text-anchor="middle" class="tk">11</text>
<line x1="658.90" y1="404.7" x2="658.90" y2="408.2" stroke="#3c3c3c" stroke-width="1.2"/>
<text x="658.90" y="421.00" text-anchor="middle" class="tk">12</text>
<line x1="510.0" y1="399.20" x2="513.5" y2="399.20" stroke="#3c3c3c" stroke-width="1.2"/>
<text transform="translate(506.20,399.20) rotate(-90)" x="0" y="0" text-anchor="middle" class="tk">0.00</text>
<line x1="510.0" y1="373.90" x2="513.5" y2="373.90" stroke="#3c3c3c" stroke-width="1.2"/>
<line x1="510.0" y1="348.60" x2="513.5" y2="348.60" stroke="#3c3c3c" stroke-width="1.2"/>
<text transform="translate(506.20,348.60) rotate(-90)" x="0" y="0" text-anchor="middle" class="tk">0.10</text>
<line x1="510.0" y1="323.30" x2="513.5" y2="323.30" stroke="#3c3c3c" stroke-width="1.2"/>
<line x1="510.0" y1="298.00" x2="513.5" y2="298.00" stroke="#3c3c3c" stroke-width="1.2"/>
<text transform="translate(506.20,298.00) rotate(-90)" x="0" y="0" text-anchor="middle" class="tk">0.20</text>
<line x1="510.0" y1="272.70" x2="513.5" y2="272.70" stroke="#3c3c3c" stroke-width="1.2"/>
<text x="597.50" y="433.00" text-anchor="middle" class="al">CTI</text>
<text transform="translate(492.00,328.15) rotate(-90)" x="0" y="0" text-anchor="middle" class="al">Probability of death</text>
<text x="118.8" y="13.7" text-anchor="middle" class="ti">crudeModel</text>
<text x="357.5" y="13.7" text-anchor="middle" class="ti">Model1</text>
<text x="597.4" y="13.7" text-anchor="middle" class="ti">Model2</text>
<text x="119.05" y="237.6" text-anchor="middle" class="ti">crudeModel</text>
<text x="357.55" y="237.7" text-anchor="middle" class="ti">Model1</text>
<text x="597.45" y="237.7" text-anchor="middle" class="ti">Model2</text>
<text x="9.8" y="11.8" class="lt">A</text>
<text x="255.3" y="11.8" class="lt">B</text>
<text x="494.4" y="11.9" class="lt">C</text>
<text x="10.3" y="229.8" class="lt">D</text>
<text x="255.9" y="229.8" class="lt">E</text>
<text x="507" y="235.9" class="lt">F</text>
<text x="120.9" y="48.7" text-anchor="middle" class="pv" textLength="72.08" lengthAdjust="spacingAndGlyphs">P-overall: &lt;0.001</text>
<text x="121.05" y="60.7" text-anchor="middle" class="pv" textLength="86.35" lengthAdjust="spacingAndGlyphs">P-non-linear: &lt;0.001</text>
<text x="360.0" y="48.7" text-anchor="middle" class="pv" textLength="72.08" lengthAdjust="spacingAndGlyphs">P-overall: &lt;0.001</text>
<text x="360.0" y="60.7" text-anchor="middle" class="pv" textLength="86.35" lengthAdjust="spacingAndGlyphs">P-non-linear: &lt;0.001</text>
<text x="599.3" y="48.7" text-anchor="middle" class="pv" textLength="72.08" lengthAdjust="spacingAndGlyphs">P-overall: &lt;0.001</text>
<text x="599.45" y="60.7" text-anchor="middle" class="pv" textLength="86.35" lengthAdjust="spacingAndGlyphs">P-non-linear: &lt;0.001</text>
<text x="120.85" y="295.9" text-anchor="middle" class="pv" textLength="72.08" lengthAdjust="spacingAndGlyphs">P-overall: &lt;0.001</text>
<text x="120.7" y="307.6" text-anchor="middle" class="pv" textLength="86.08" lengthAdjust="spacingAndGlyphs">P-non-linear: 0.9821</text>
<text x="360.0" y="295.9" text-anchor="middle" class="pv" textLength="72.08" lengthAdjust="spacingAndGlyphs">P-overall: &lt;0.001</text>
<text x="360.2" y="307.6" text-anchor="middle" class="pv" textLength="86.08" lengthAdjust="spacingAndGlyphs">P-non-linear: 0.5589</text>
<text x="599.3" y="295.9" text-anchor="middle" class="pv" textLength="72.08" lengthAdjust="spacingAndGlyphs">P-overall: &lt;0.001</text>
<text x="599.65" y="307.6" text-anchor="middle" class="pv" textLength="86.08" lengthAdjust="spacingAndGlyphs">P-non-linear: 0.5209</text>
<text x="310.3" y="218.3" class="sm">Text</text>
</svg>
</body></html>
